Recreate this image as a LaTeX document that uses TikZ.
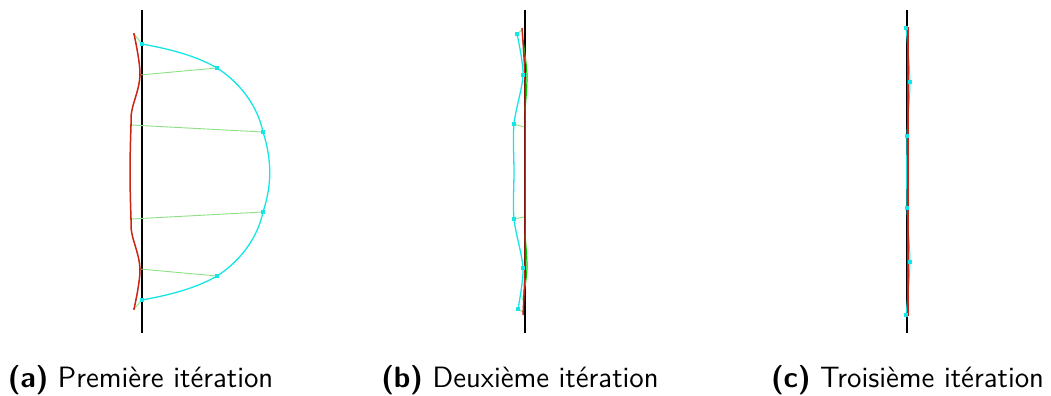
\documentclass[tikz,border=0pt]{standalone}
\definecolor{tgtcyan}{RGB}{20,230,230}
\definecolor{curred}{RGB}{205,35,20}
\definecolor{linkgreen}{RGB}{140,225,130}
\begin{document}
\begin{tikzpicture}[x=0.5pt,y=-0.5pt,line width=.8pt,
  axis/.style={black,line width=1.1pt},
  cur/.style={curred,line width=.75pt},
  tgt/.style={tgtcyan,line width=.65pt},
  link/.style={linkgreen,line width=.45pt},
  cpt/.style={fill=tgtcyan,draw=none},
  rpt/.style={fill=curred,draw=none},
  subcap/.style={anchor=base,inner sep=0,font=\sffamily\fontsize{14.7}{17}\selectfont}]
\useasboundingbox (0,0) rectangle (1051,396);
% (a)
\draw[axis] (142,10)--(142,333);
\foreach \n/\p in {r1/{134,34},r2/{140,75},r3/{131,125},r4/{131,219},r5/{140,269},r6/{134,309}} \coordinate (a\n) at (\p);
\foreach \n/\p in {c1/{142,44},c2/{217,68},c3/{263,132},c4/{263,212},c5/{217,276},c6/{142,300}} \coordinate (a\n) at (\p);
\foreach \i in {1,...,6} \draw[link] (ar\i)--(ac\i);
\draw[tgt] (ac1) .. controls (175,50) and (198,57) .. (ac2) .. controls (242,84) and (258,108) .. (ac3) .. controls (272,160) and (272,185) .. (ac4) .. controls (258,236) and (242,260) .. (ac5) .. controls (198,287) and (175,294) .. (ac6);
\draw[cur] plot[smooth,tension=.6] coordinates {(134,34) (140,75) (132,110) (131,125) (130,172) (131,219) (132,234) (140,269) (134,309)};
\foreach \i in {1,...,6} {\fill[cpt] (ac\i) ++(-1.8,-1.8) rectangle ++(3.6,3.6); \fill[rpt] (ar\i) circle (1.2);}
% (b)
\draw[axis] (525,10)--(525,333);
\foreach \n/\p in {c1/{517,34},c2/{523,75},c3/{514,124},c4/{514,219},c5/{523,268},c6/{518,309}} \coordinate (b\n) at (\p);
\foreach \n/\p in {r1/{522,30},r2/{525,75},r3/{524,127},r4/{524,217},r5/{525,268},r6/{523,312}} \coordinate (b\n) at (\p);
\draw[green!80!black,line width=.6pt] plot[smooth] coordinates {(523,40) (527,75) (525,110)};
\draw[green!80!black,line width=.6pt] plot[smooth] coordinates {(525,235) (527,268) (523,300)};
\foreach \i in {1,...,6} \draw[link] (bc\i)--(br\i);
\draw[tgt] plot[smooth,tension=.5] coordinates {(517,34) (523,75) (514,124) (514,172) (514,219) (523,268) (518,309)};
\draw[cur] plot[smooth] coordinates {(522,28) (525,80) (525,172) (525,265) (523,315)};
\foreach \i in {1,...,6} \fill[cpt] (bc\i) ++(-1.8,-1.8) rectangle ++(3.6,3.6);
% (c)
\draw[axis] (907,10)--(907,333);
\foreach \n/\p in {c1/{906,28},c2/{910,82},c3/{907,136},c4/{907,208},c5/{910,262},c6/{906,315}} \coordinate (c\n) at (\p);
\draw[tgt,line width=.5pt] plot[smooth] coordinates {(906,28) (910,82) (907,136) (907,208) (910,262) (906,315)};
\draw[cur] (908,27)--(908,316);
\foreach \i in {1,...,6} \fill[cpt] (cc\i) ++(-1.6,-1.6) rectangle ++(3.2,3.2);
% captions
\node[subcap] (capa) at (140.5,387) {\textbf{(a)} Première itération};
\node[subcap] (capb) at (520,387) {\textbf{(b)} Deuxième itération};
\node[subcap] (capc) at (907.5,387) {\textbf{(c)} Troisième itération};
\end{tikzpicture}
\end{document}
